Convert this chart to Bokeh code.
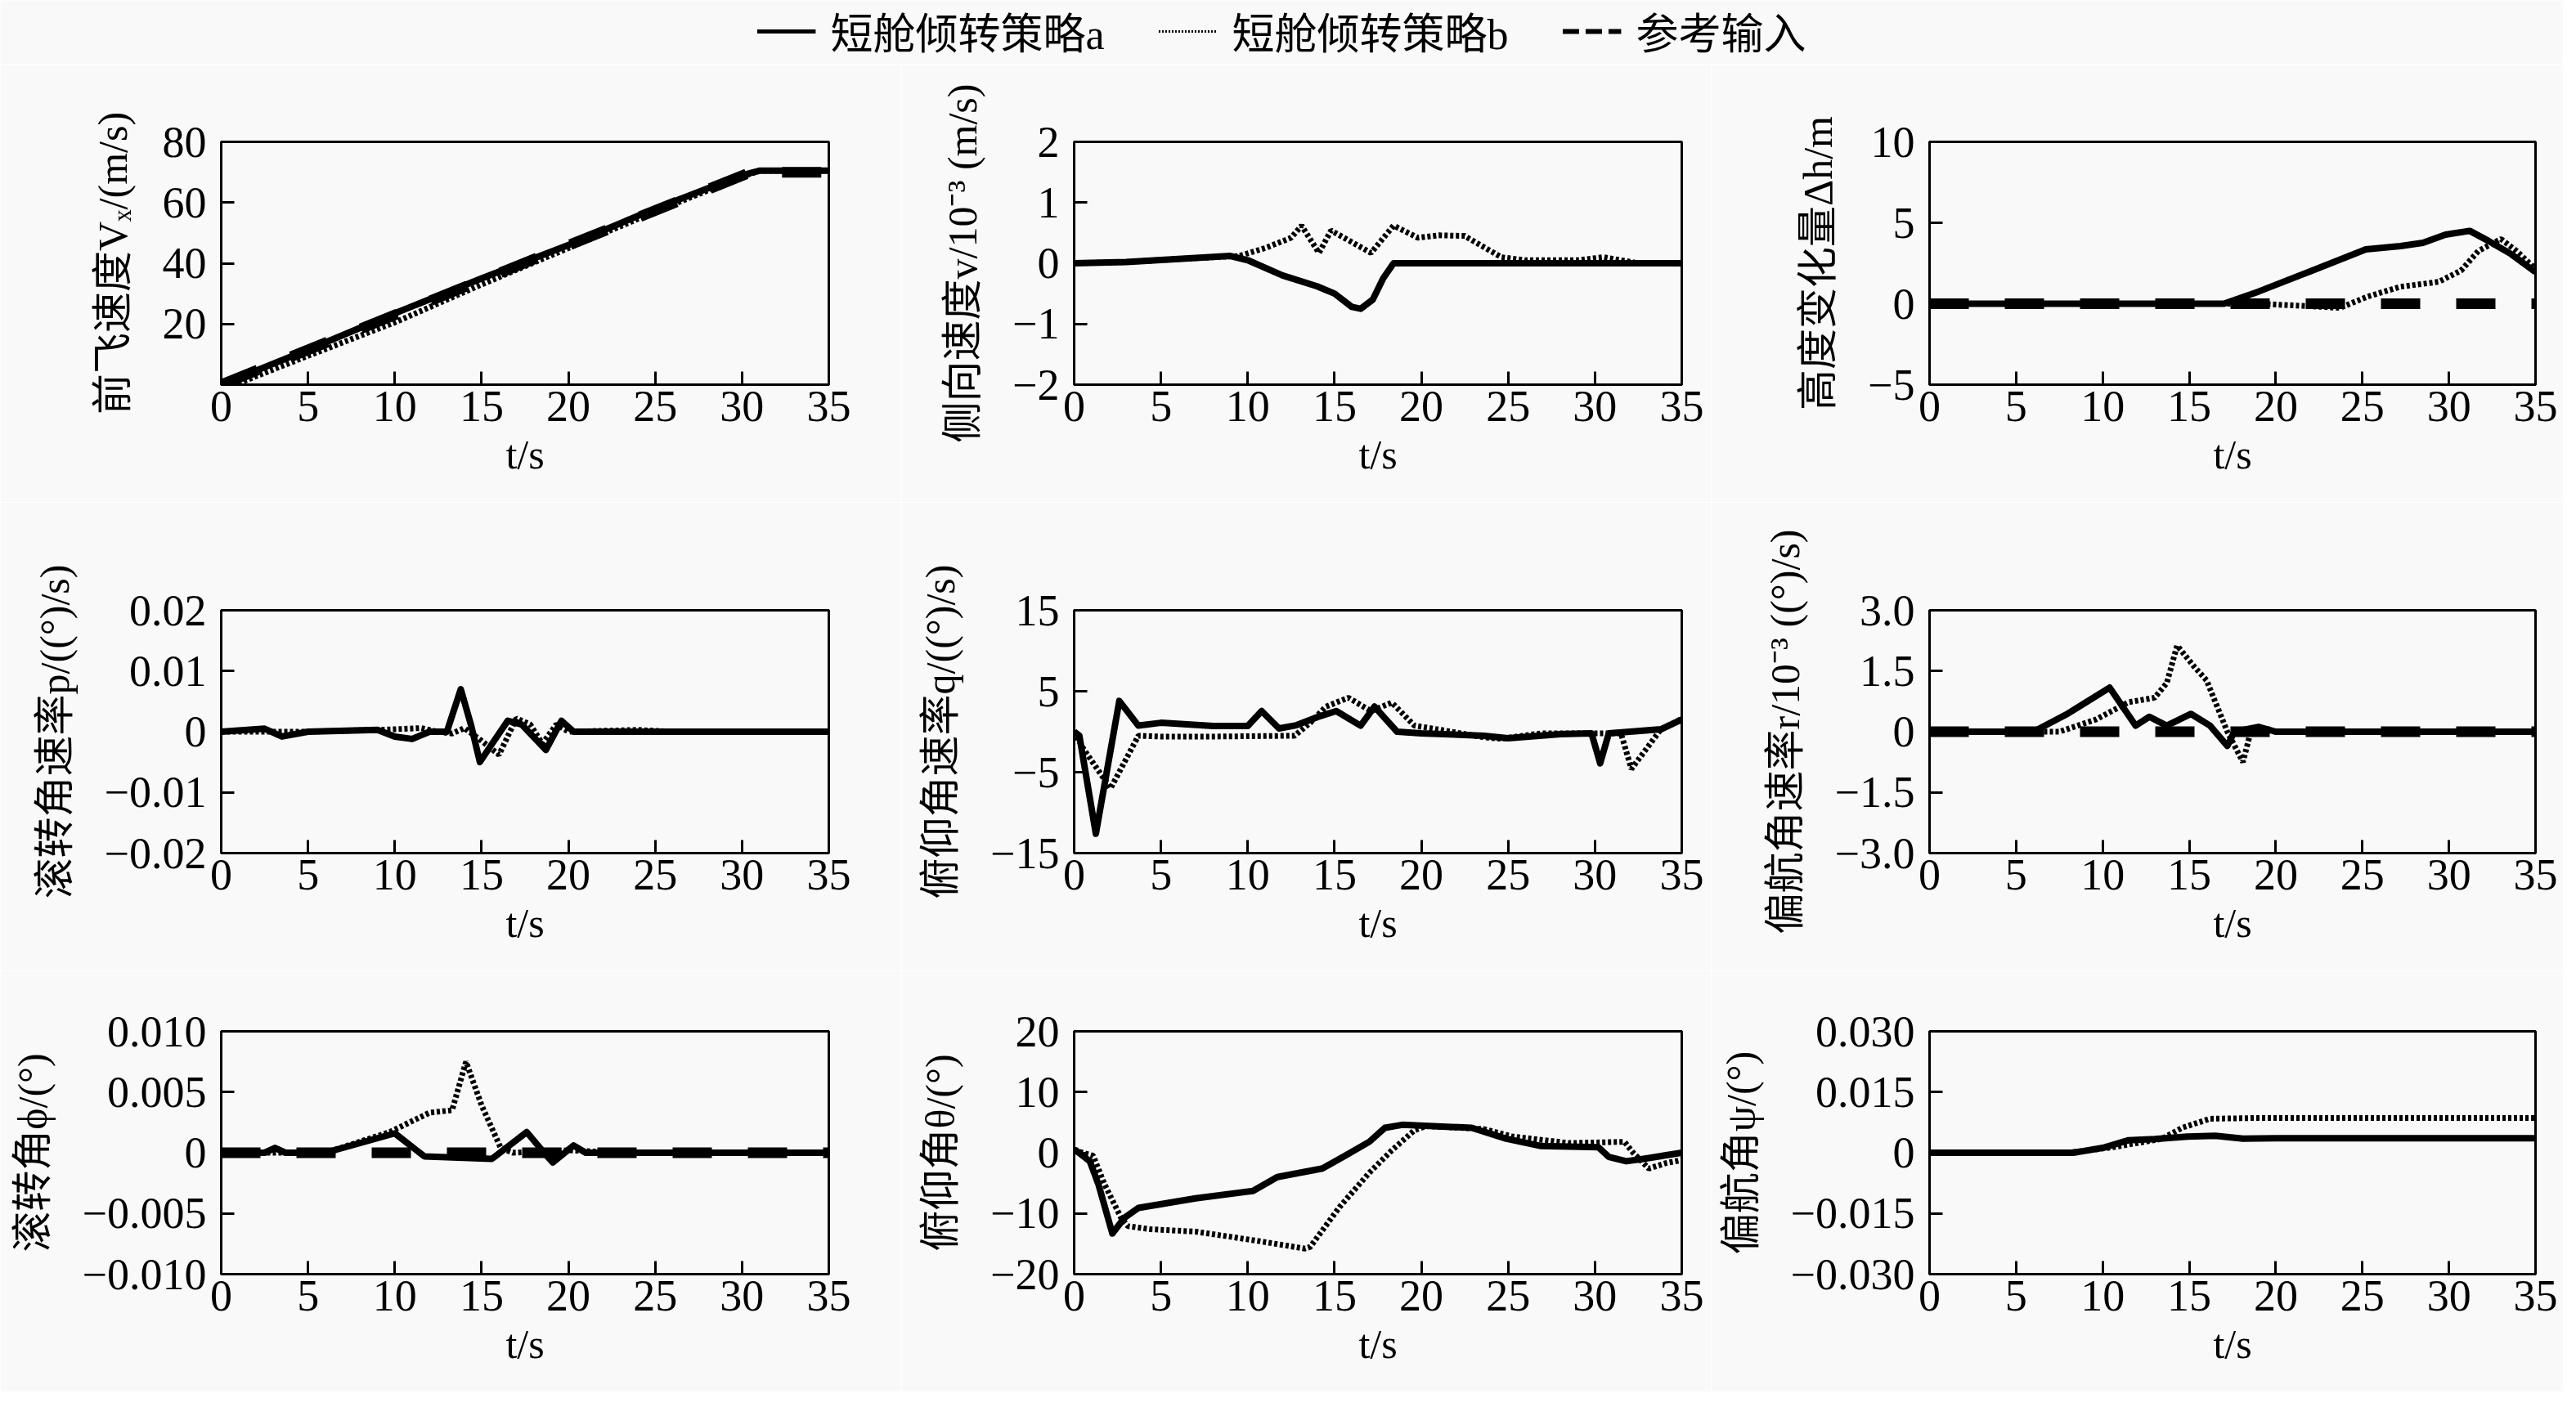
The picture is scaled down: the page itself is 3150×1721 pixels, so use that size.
from bokeh.plotting import figure
from bokeh.layouts import column, row
from bokeh.models import FixedTicker, Legend, LegendItem
from bokeh.embed import file_html
from bokeh.resources import INLINE

# ---------------- data ----------------
x_ticks = [0, 5, 10, 15, 20, 25, 30, 35]
legend_labels = ["短舱倾转策略a", "短舱倾转策略b", "参考输入"]

# forward speed Vx
t_vx_a = [0, 5, 10, 15, 20, 25, 30, 31, 35]
vx_a = [0, 11.5, 23.5, 35, 46, 58, 69, 70.5, 70.5]
t_vx_b = [0, 1, 5, 10, 15, 20, 25, 30, 31, 35]
vx_b = [0, 0.5, 9.5, 20.5, 33, 45, 57, 68.5, 70.5, 70.5]
t_vx_ref = [0, 30.5, 35]
vx_ref = [0, 70, 70]
vx_ticks = [20, 40, 60, 80]
vx_tick_labels = ["20", "40", "60", "80"]

# lateral speed v (1e-3 m/s)
t_v_a = [0, 3, 6, 9, 10, 12, 14, 15, 16, 16.5, 17.2, 17.8, 18.4, 35]
v_a = [0, 0.02, 0.07, 0.12, 0.05, -0.2, -0.38, -0.5, -0.72, -0.75, -0.6, -0.25, 0, 0]
t_v_b = [0, 3, 6, 9.5, 11, 12.5, 13.1, 14.1, 14.8, 17.1, 18.4, 19.8, 21, 22.5, 24.6, 26, 29, 30.5, 31.5, 32.5, 35]
v_b = [0, 0.02, 0.07, 0.12, 0.25, 0.42, 0.62, 0.17, 0.54, 0.17, 0.62, 0.42, 0.46, 0.45, 0.1, 0.05, 0.05, 0.1, 0.05, 0, 0]
v_ticks = [-2, -1, 0, 1, 2]
v_tick_labels = ["\u22122", "\u22121", "0", "1", "2"]

# height change dh
t_h_a = [0, 17, 19, 22.1, 25.2, 27.2, 28.5, 29.8, 31.2, 32.3, 33.6, 35]
h_a = [0, 0, 0.75, 2.05, 3.36, 3.56, 3.76, 4.27, 4.5, 3.87, 3.06, 1.95]
t_h_b = [0, 19, 22.1, 23.7, 25.3, 27.2, 29.4, 30.7, 31.7, 33.0, 33.9, 35]
h_b = [0, 0, -0.16, -0.26, 0.44, 1.05, 1.35, 2.05, 3.26, 4.0, 3.26, 2.15]
t_h_ref = [0, 35]
h_ref = [0, 0]
h_ticks = [-5, 0, 5, 10]
h_tick_labels = ["\u22125", "0", "5", "10"]

# roll rate p
t_p_a = [0, 1, 2.5, 3.5, 5, 9, 10, 11, 12, 13, 13.8, 14.4, 14.9, 15.6, 16.5, 17.3, 18.7, 19.6, 20.3, 35]
p_a = [0, 0.0002, 0.0005, -0.0008, 0, 0.0003, -0.0008, -0.0012, 0, 0, 0.007, 0.001, -0.005, -0.002, 0.0018, 0.0012, -0.003, 0.0018, 0, 0]
t_p_b = [0, 5, 10, 11.5, 12.5, 13.3, 14, 15, 16, 17, 17.8, 18.5, 19.3, 20, 24, 26, 35]
p_b = [0, 0, 0.0004, 0.0006, 0, -0.0003, 0.0006, -0.0015, -0.0038, 0.0022, 0.0012, -0.002, 0.0012, 0, 0.0003, 0, 0]
p_ticks = [-0.02, -0.01, 0, 0.01, 0.02]
p_tick_labels = ["\u22120.02", "\u22120.01", "0", "0.01", "0.02"]

# pitch rate q
t_q_a = [0, 0.3, 1.25, 2.6, 3.7, 5, 8, 10, 10.8, 11.8, 12.8, 14, 15.1, 16.5, 17.3, 18.6, 20, 23.6, 25, 28, 29.8, 30.3, 30.8, 32, 33.8, 35]
q_a = [0, -0.5, -12.6, 3.8, 0.75, 1.1, 0.7, 0.7, 2.55, 0.4, 0.8, 1.8, 2.55, 0.75, 3.1, 0, -0.2, -0.5, -0.8, -0.3, -0.2, -3.9, -0.2, 0, 0.3, 1.5]
t_q_b = [0, 0.5, 2.1, 3.7, 5, 8, 12.7, 13.6, 14.5, 15.8, 17.1, 18.3, 19.6, 21.2, 23.6, 24.6, 26.9, 31.5, 32.1, 33.8, 35]
q_b = [0, -2, -7, -0.5, -0.6, -0.6, -0.5, 1.1, 3.1, 4.2, 2.55, 3.6, 0.75, 0.2, -0.7, -0.86, -0.2, -0.2, -4.6, 0.3, 1.6]
q_ticks = [-15, -5, 5, 15]
q_tick_labels = ["\u221215", "\u22125", "5", "15"]

# yaw rate r (1e-3)
t_r_a = [0, 6, 8, 10.4, 11.9, 12.7, 13.7, 15.1, 16.2, 17.2, 17.6, 19, 20, 35]
r_a = [0, 0, 0.45, 1.09, 0.15, 0.37, 0.15, 0.44, 0.15, -0.35, 0, 0.12, 0, 0]
t_r_b = [0, 7.5, 9.6, 11.5, 13, 13.7, 14.3, 15.3, 16, 17.2, 18.1, 18.6, 20, 35]
r_b = [0, 0, 0.3, 0.73, 0.84, 1.2, 2.13, 1.6, 1.27, 0, -0.75, 0.08, 0, 0]
t_r_ref = [0, 35]
r_ref = [0, 0]
r_ticks = [-3.0, -1.5, 0, 1.5, 3.0]
r_tick_labels = ["\u22123.0", "\u22121.5", "0", "1.5", "3.0"]

# roll angle phi
t_phi_a = [0, 2.5, 3.1, 3.7, 6, 10, 11.7, 15.6, 17.6, 18.6, 19.1, 20.3, 21, 35]
phi_a = [0, 0, 0.0004, 0, 0, 0.0016, -0.0003, -0.0005, 0.0017, 0, -0.0008, 0.0006, 0, 0]
t_phi_b = [0, 6, 9.7, 12, 13.3, 14.1, 15, 16.1, 16.8, 20, 23, 35]
phi_b = [0, 0, 0.0017, 0.0033, 0.0035, 0.0075, 0.0039, 0.0004, 0, 0.0002, 0, 0]
t_phi_ref = [0, 35]
phi_ref = [0, 0]
phi_ticks = [-0.01, -0.005, 0, 0.005, 0.01]
phi_tick_labels = ["\u22120.010", "\u22120.005", "0", "0.005", "0.010"]

# pitch angle theta
t_th_a = [0, 0.1, 0.9, 1.4, 2.2, 2.9, 3.7, 7, 10.3, 11.7, 14.3, 15.6, 17, 17.9, 18.9, 22.9, 24.9, 26.9, 30.2, 30.8, 31.8, 32.8, 35]
th_a = [0.4, 0.4, -1.4, -5.2, -13.3, -10.7, -9.1, -7.5, -6.3, -4, -2.6, -0.5, 1.8, 4.1, 4.6, 4.1, 2.3, 1.1, 0.9, -0.7, -1.4, -1, 0]
t_th_b = [0, 1.1, 1.75, 2.7, 3.1, 4.4, 7, 10.3, 13.3, 13.6, 15.3, 17, 18.3, 19.6, 20.3, 23.6, 25.2, 28.5, 31.7, 32.2, 33.1, 34.1, 35]
th_b = [0.4, -0.5, -5.2, -10.7, -12.1, -12.6, -13, -14.4, -15.8, -15.5, -8.9, -3.3, 0.4, 3.7, 4.4, 3.9, 2.7, 1.6, 1.8, 0, -2.6, -1.7, -1.2]
th_ticks = [-20, -10, 0, 10, 20]
th_tick_labels = ["\u221220", "\u221210", "0", "10", "20"]

# yaw angle psi
t_psi_a = [0, 8.3, 10, 11.5, 13, 14.9, 16.5, 18.1, 20, 35]
psi_a = [0, 0, 0.0012, 0.0031, 0.0034, 0.004, 0.0042, 0.0035, 0.0036, 0.0036]
t_psi_b = [0, 8, 10.5, 13.4, 14.6, 16.2, 19, 35]
psi_b = [0, 0, 0.0013, 0.0034, 0.0062, 0.0084, 0.0086, 0.0086]
psi_ticks = [-0.03, -0.015, 0, 0.015, 0.03]
psi_tick_labels = ["\u22120.030", "\u22120.015", "0", "0.015", "0.030"]

# ---------------- styling / layout ----------------
BG = "#f9f9f9"
SERIF = "Liberation Serif"
MIXED = "Liberation Serif, Noto Sans CJK SC"

LEGEND_H = 78
COL_W = [1102, 990, 1042]
COL_BL = [270, 211, 267]
COL_BR = [89, 36, 34]
ROW_H = [536, 573, 515]
ROW_BT = [95, 132, 74]
BOTTOM = 144


def panel(ci, ri, ylim, yticks, ylabels, ylabel, a, b, ref=None):
    p = figure(width=COL_W[ci], height=ROW_H[ri], x_range=(0, 35), y_range=ylim,
               output_backend="svg", toolbar_location=None,
               min_border_left=COL_BL[ci], min_border_right=COL_BR[ci],
               min_border_top=ROW_BT[ri], min_border_bottom=BOTTOM,
               background_fill_color=BG, border_fill_color=BG)
    p.outline_line_color = "black"
    p.outline_line_width = 3
    p.outline_line_alpha = 1.0
    p.grid.visible = False
    if ref is not None:
        p.line(ref[0], ref[1], line_color="black", line_width=13, line_dash="48 44")
    p.line(b[0], b[1], line_color="black", line_width=7, line_dash="4 3")
    p.line(a[0], a[1], line_color="black", line_width=8, line_join="round")

    p.xaxis.ticker = FixedTicker(ticks=x_ticks)
    p.yaxis.ticker = FixedTicker(ticks=yticks)
    p.yaxis.major_label_overrides = {v: s for v, s in zip(yticks, ylabels)}
    for ax in (p.xaxis[0], p.yaxis[0]):
        ax.major_tick_in = 16
        ax.major_tick_out = 0
        ax.minor_tick_in = 0
        ax.minor_tick_out = 0
        ax.major_tick_line_width = 3
        ax.axis_line_width = 3
        ax.major_label_text_font = SERIF
        ax.major_label_text_font_size = "54px"
        ax.major_label_text_color = "black"
        ax.axis_label_text_font = MIXED
        ax.axis_label_text_font_size = "50px"
        ax.axis_label_text_font_style = "normal"
        ax.axis_label_text_color = "black"
    p.xaxis.major_label_standoff = 8
    p.yaxis.major_label_standoff = 18
    p.xaxis.axis_label = "t/s"
    p.xaxis.axis_label_standoff = 10
    p.yaxis.axis_label = ylabel
    p.yaxis.axis_label_standoff = 30
    return p


f11 = panel(0, 0, (0, 80), vx_ticks, vx_tick_labels, "前飞速度Vₓ/(m/s)",
            (t_vx_a, vx_a), (t_vx_b, vx_b), (t_vx_ref, vx_ref))
f12 = panel(1, 0, (-2, 2), v_ticks, v_tick_labels, "侧向速度v/10⁻³ (m/s)",
            (t_v_a, v_a), (t_v_b, v_b))
f13 = panel(2, 0, (-5, 10), h_ticks, h_tick_labels, "高度变化量Δh/m",
            (t_h_a, h_a), (t_h_b, h_b), (t_h_ref, h_ref))
f21 = panel(0, 1, (-0.02, 0.02), p_ticks, p_tick_labels, "滚转角速率p/((°)/s)",
            (t_p_a, p_a), (t_p_b, p_b))
f22 = panel(1, 1, (-15, 15), q_ticks, q_tick_labels, "俯仰角速率q/((°)/s)",
            (t_q_a, q_a), (t_q_b, q_b))
f23 = panel(2, 1, (-3, 3), r_ticks, r_tick_labels, "偏航角速率r/10⁻³ ((°)/s)",
            (t_r_a, r_a), (t_r_b, r_b), (t_r_ref, r_ref))
f31 = panel(0, 2, (-0.01, 0.01), phi_ticks, phi_tick_labels, "滚转角ϕ/(°)",
            (t_phi_a, phi_a), (t_phi_b, phi_b), (t_phi_ref, phi_ref))
f32 = panel(1, 2, (-20, 20), th_ticks, th_tick_labels, "俯仰角θ/(°)",
            (t_th_a, th_a), (t_th_b, th_b))
f33 = panel(2, 2, (-0.03, 0.03), psi_ticks, psi_tick_labels, "偏航角ψ/(°)",
            (t_psi_a, psi_a), (t_psi_b, psi_b))

# legend strip (sample renderers sit outside the visible range; only the legend shows)
lp = figure(width=sum(COL_W), height=LEGEND_H, x_range=(0, 1), y_range=(0, 1),
            output_backend="svg", toolbar_location=None,
            x_axis_type=None, y_axis_type=None, min_border=0,
            background_fill_color=BG, border_fill_color=BG)
lp.outline_line_color = None
r_sa = lp.line([5, 6], [5, 6], line_color="black", line_width=5)
r_sb = lp.line([5, 6], [5, 6], line_color="black", line_width=3, line_dash="2 2")
r_sr = lp.line([5, 6], [5, 6], line_color="black", line_width=6, line_dash="20 8")
legend = Legend(items=[LegendItem(label=legend_labels[0], renderers=[r_sa]),
                       LegendItem(label=legend_labels[1], renderers=[r_sb]),
                       LegendItem(label=legend_labels[2], renderers=[r_sr])],
                orientation="horizontal", location="top_center",
                glyph_width=72, glyph_height=40, label_standoff=18, spacing=66,
                padding=0, margin=0, border_line_alpha=0, background_fill_alpha=0,
                label_text_font=MIXED, label_text_font_size="52px",
                label_text_color="black")
lp.add_layout(legend)

layout = column(lp, row(f11, f12, f13), row(f21, f22, f23), row(f31, f32, f33))

html = file_html(layout, INLINE, title="chart")
html = html.replace("<body>", '<body style="background-color:#f9f9f9;">', 1)
open("out.html", "w").write(html)
